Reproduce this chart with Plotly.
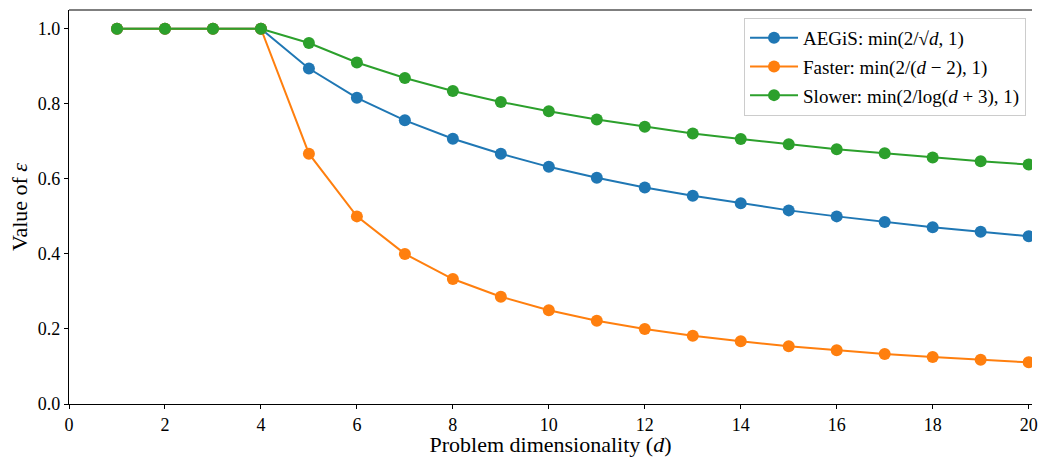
import plotly.graph_objects as go

d = list(range(1, 21))
aegis = [1, 1, 1, 1, 0.894, 0.816, 0.756, 0.707, 0.667, 0.632, 0.603, 0.577,
         0.555, 0.535, 0.516, 0.500, 0.485, 0.471, 0.459, 0.447]
faster = [1, 1, 1, 1, 0.667, 0.500, 0.400, 0.333, 0.286, 0.250, 0.222, 0.200,
          0.182, 0.167, 0.154, 0.143, 0.133, 0.125, 0.118, 0.111]
slower = [1, 1, 1, 1, 0.962, 0.910, 0.869, 0.834, 0.805, 0.780, 0.758, 0.739,
          0.721, 0.706, 0.692, 0.679, 0.668, 0.657, 0.647, 0.638]

names = ["AEGiS: min(2/√<i>d</i>, 1)",
         "Faster: min(2/(<i>d</i> − 2), 1)",
         "Slower: min(2/log(<i>d</i> + 3), 1)"]
colors = ["#1f77b4", "#ff7f0e", "#2ca02c"]
series = [aegis, faster, slower]

FONT = "Liberation Serif, Times New Roman, serif"

fig = go.Figure()
for i, (name, col, ys) in enumerate(zip(names, colors, series)):
    fig.add_trace(go.Scatter(
        x=d, y=ys, name=name, mode="lines+markers", legendgroup=f"g{i}",
        line=dict(color=col, width=2),
        marker=dict(color=col, size=12),
    ))

fig.update_layout(
    width=1038, height=457,
    margin=dict(l=69, r=0, t=10, b=53),
    paper_bgcolor="white", plot_bgcolor="white",
    font=dict(family=FONT, size=18, color="black"),
    showlegend=True,
    legend=dict(
        x=0.9938, xanchor="right", y=0.98, yanchor="top",
        bgcolor="rgba(255,255,255,0.8)", bordercolor="#cccccc", borderwidth=1,
        font=dict(family=FONT, size=19, color="black"),
        tracegroupgap=1, itemwidth=48,
    ),
)
fig.update_xaxes(
    range=[0, 20.07], tickmode="array", tickvals=list(range(0, 21, 2)),
    ticks="outside", ticklen=4, tickwidth=1, tickcolor="black",
    tickfont=dict(size=18), ticklabeloverflow="allow",
    showgrid=False, zeroline=False, showline=True, linecolor="black", linewidth=1.2,
    mirror=False,
    title=dict(text="Problem dimensionality (<i>d</i>)", font=dict(size=22), standoff=3),
)
fig.update_yaxes(
    range=[0, 1.05], tickmode="array", tickvals=[0, 0.2, 0.4, 0.6, 0.8, 1.0],
    tickformat=".1f",
    ticks="outside", ticklen=4, tickwidth=1, tickcolor="black",
    tickfont=dict(size=18),
    showgrid=False, zeroline=False, showline=True, linecolor="black", linewidth=1.2,
    title=dict(text="Value of <i>ε</i>", font=dict(size=22), standoff=4),
)
# top spine
fig.add_shape(type="line", xref="paper", yref="paper", x0=0, x1=1, y0=1, y1=1,
              line=dict(color="black", width=1.2))

fig.write_html("out.html", config={"displayModeBar": False},
               post_script="document.body.style.margin='0';")
